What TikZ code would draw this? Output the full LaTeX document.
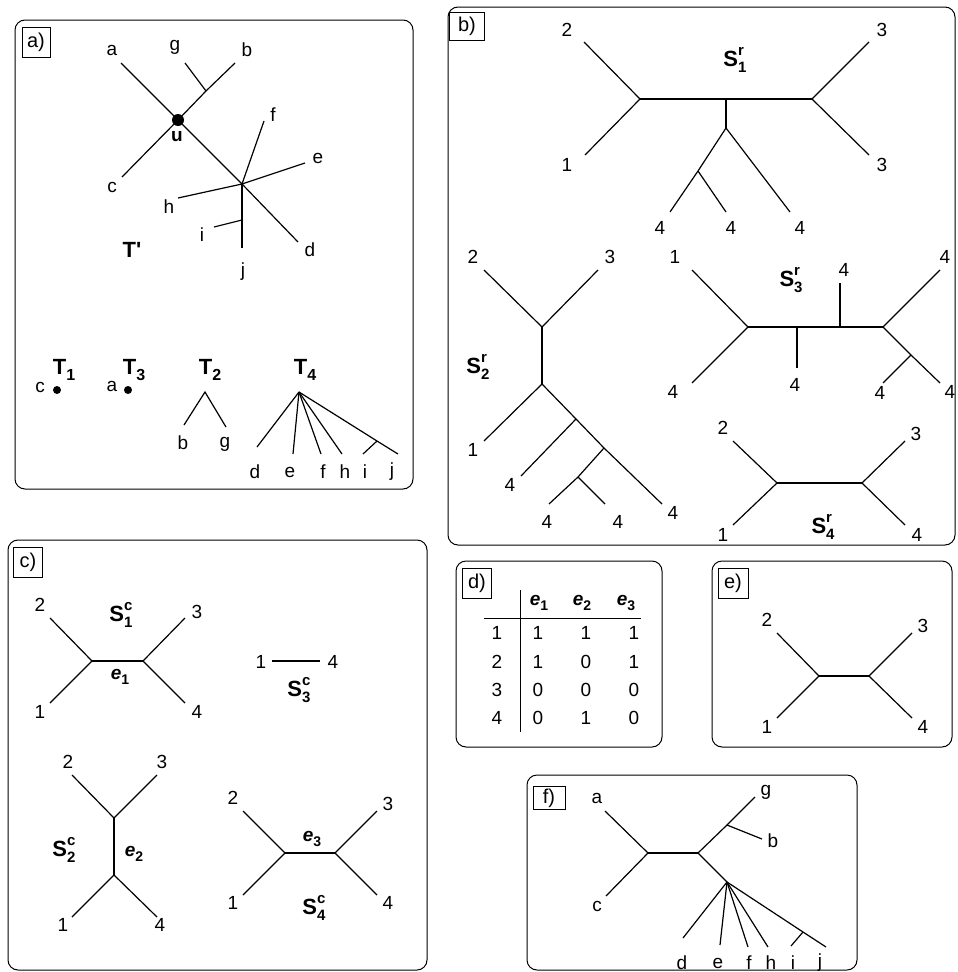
\documentclass[tikz,border=0pt]{standalone}
\usepackage{fontspec}
\setmainfont{Liberation Sans}
\newfontfamily\plainsans{Liberation Sans}
\newcommand\supsubtxt[2]{\makebox[0pt][l]{\raisebox{0.5em}{\fontsize{15}{15}\selectfont #1}}\raisebox{-0.3em}{\fontsize{15}{15}\selectfont #2}}
\newcommand\subtxt[1]{\raisebox{-0.3em}{\fontsize{16}{16}\selectfont #1}}
\newcommand\evar[1]{{\itshape e}\raisebox{-0.3em}{\fontsize{14}{14}\selectfont #1}}
\begin{document}
\begin{tikzpicture}[x=1pt,y=-1pt,
  edge/.style={line width=1.2pt},
  panel/.style={draw, rounded corners=10pt, line width=1pt},
  tagbox/.style={draw, line width=0.8pt, inner sep=0pt, font=\fontsize{20}{22}\selectfont},
  lbl/.style={inner sep=0pt, font=\fontsize{19}{21}\selectfont},
  big/.style={inner sep=0pt, font=\fontsize{22}{24}\selectfont\bfseries},
  elbl/.style={inner sep=0pt, font=\fontsize{19}{21}\selectfont\bfseries}]
\useasboundingbox (0,0) rectangle (958,972);

% ---------- panels ----------
\draw[panel] (15,20) rectangle (413,489);
\draw[panel] (448,7) rectangle (955,545);
\draw[panel] (8,540) rectangle (427,970);
\draw[panel] (456,561) rectangle (662,747);
\draw[panel] (712,561) rectangle (952,747);
\draw[panel] (527,775) rectangle (857,970);

\node[tagbox, minimum width=28pt, minimum height=30pt] (tagA) at (36,42) {a)};
\node[tagbox, minimum width=35pt, minimum height=28pt] (tagB) at (467,26) {b)};
\node[tagbox, minimum width=29pt, minimum height=30pt] (tagC) at (28,562) {c)};
\node[tagbox, minimum width=29pt, minimum height=30pt] (tagD) at (477,583) {d)};
\node[tagbox, minimum width=30pt, minimum height=30pt] (tagE) at (733,583) {e)};
\node[tagbox, minimum width=32pt, minimum height=23pt] (tagF) at (549,798) {f)};

% ---------- panel a: T' ----------
\coordinate (u) at (178,120);
\coordinate (ta) at (121,63);
\coordinate (tc) at (122,177);
\coordinate (tb) at (235,63);
\coordinate (tgj) at (206,91);
\coordinate (tg) at (185,63);
\coordinate (tx) at (242,184);
\coordinate (td) at (298,242);
\coordinate (tf) at (264,121);
\coordinate (te) at (305,163);
\coordinate (th) at (178,198);
\coordinate (tj) at (242,248);
\coordinate (tij) at (242,220);
\coordinate (ti) at (214,227);
\draw[edge] (ta) -- (u) -- (tx) -- (td);
\draw[edge] (tc) -- (u) -- (tgj) -- (tb);
\draw[edge] (tgj) -- (tg);
\draw[edge] (tx) -- (tf);
\draw[edge] (tx) -- (te);
\draw[edge] (tx) -- (th);
\draw[edge] (tx) -- (tij) -- (tj);
\draw[edge] (tij) -- (ti);
\fill (u) circle (6);
\node[lbl] (la) at (112,50) {a};
\node[lbl] (lg) at (175,47) {g};
\node[lbl] (lb) at (247,50) {b};
\node[lbl] (lc) at (112,187) {c};
\node[elbl] (lu) at (177,137) {u};
\node[lbl] (lf) at (273,115) {f};
\node[lbl] (le) at (318,158) {e};
\node[lbl] (lh) at (169,207) {h};
\node[lbl] (li) at (202,235) {i};
\node[lbl] (lj) at (243,272) {j};
\node[lbl] (ld) at (310,250) {d};
\node[big] (Tp) at (132,250) {T{\plainsans\bfseries '}};

% ---------- panel a: T1..T4 ----------
\node[big] (T1) at (64,370) {T\subtxt{1}};
\node[big] (T3) at (134,370) {T\subtxt{3}};
\node[big] (T2) at (210,370) {T\subtxt{2}};
\node[big] (T4) at (305,370) {T\subtxt{4}};
\coordinate (d1) at (57,390);
\coordinate (d3) at (128,390);
\fill (d1) circle (4);
\fill (d3) circle (4);
\node[lbl] (l1c) at (40,387) {c};
\node[lbl] (l3a) at (112,386) {a};
% T2
\coordinate (t2r) at (205,392);
\coordinate (t2b) at (184,425);
\coordinate (t2g) at (226,427);
\draw[edge] (t2b) -- (t2r) -- (t2g);
\node[lbl] (l2b) at (183,443) {b};
\node[lbl] (l2g) at (225,444) {g};
% T4
\coordinate (t4r) at (299,392);
\coordinate (t4d) at (257,447);
\coordinate (t4e) at (293,454);
\coordinate (t4f) at (321,454);
\coordinate (t4h) at (342,454);
\coordinate (t4j) at (398,454);
\coordinate (t4ij) at (377,441);
\coordinate (t4i) at (363,454);
\draw[edge] (t4r) -- (t4d);
\draw[edge] (t4r) -- (t4e);
\draw[edge] (t4r) -- (t4f);
\draw[edge] (t4r) -- (t4h);
\draw[edge] (t4r) -- (t4ij) -- (t4j);
\draw[edge] (t4ij) -- (t4i);
\node[lbl] (l4d) at (255,472) {d};
\node[lbl] (l4e) at (290,472) {e};
\node[lbl] (l4f) at (323,472) {f};
\node[lbl] (l4h) at (345,472) {h};
\node[lbl] (l4i) at (365,472) {i};
\node[lbl] (l4j) at (392,472) {j};

% ---------- panel b: S1r ----------
\coordinate (s1L) at (640,99);
\coordinate (s1R) at (812,99);
\coordinate (s1M) at (726,99);
\coordinate (s1m) at (726,128);
\coordinate (s1e2) at (584,42);
\coordinate (s1e1) at (585,155);
\coordinate (s1e3a) at (869,42);
\coordinate (s1e3b) at (869,155);
\coordinate (s1q) at (698,171);
\coordinate (s1e4a) at (670,212);
\coordinate (s1e4b) at (726,212);
\coordinate (s1e4c) at (790,212);
\draw[edge] (s1L) -- (s1M) -- (s1R);
\draw[edge] (s1e2) -- (s1L) -- (s1e1);
\draw[edge] (s1e3a) -- (s1R) -- (s1e3b);
\draw[edge] (s1M) -- (s1m);
\draw[edge] (s1m) -- (s1q) -- (s1e4a);
\draw[edge] (s1q) -- (s1e4b);
\draw[edge] (s1m) -- (s1e4c);
\node[lbl] (b1l2) at (567,30) {2};
\node[lbl] (b1l1) at (567,165) {1};
\node[lbl] (b1l3a) at (882,30) {3};
\node[lbl] (b1l3b) at (882,165) {3};
\node[lbl] (b1l4a) at (660,228) {4};
\node[lbl] (b1l4b) at (731,228) {4};
\node[lbl] (b1l4c) at (800,228) {4};
\node[big] (S1r) at (735,60) {S\supsubtxt{r}{1}};

% ---------- panel b: S2r ----------
\coordinate (s2T) at (542,327);
\coordinate (s2B) at (542,384);
\coordinate (s2e2) at (484,270);
\coordinate (s2e3) at (598,270);
\coordinate (s2e1) at (484,441);
\coordinate (s2e4d) at (662,504);
\coordinate (s2p) at (576,419);
\coordinate (s2e4a) at (521,476);
\coordinate (s2q) at (604,448);
\coordinate (s2r) at (578,477);
\coordinate (s2e4b) at (549,504);
\coordinate (s2e4c) at (605,504);
\draw[edge] (s2e2) -- (s2T) -- (s2e3);
\draw[edge] (s2T) -- (s2B);
\draw[edge] (s2B) -- (s2e1);
\draw[edge] (s2B) -- (s2p) -- (s2q) -- (s2e4d);
\draw[edge] (s2p) -- (s2e4a);
\draw[edge] (s2q) -- (s2r) -- (s2e4b);
\draw[edge] (s2r) -- (s2e4c);
\node[lbl] (b2l2) at (473,257) {2};
\node[lbl] (b2l3) at (610,257) {3};
\node[lbl] (b2l1) at (473,450) {1};
\node[lbl] (b2l4a) at (510,485) {4};
\node[lbl] (b2l4b) at (547,522) {4};
\node[lbl] (b2l4c) at (618,522) {4};
\node[lbl] (b2l4d) at (673,513) {4};
\node[big] (S2r) at (478,367) {S\supsubtxt{r}{2}};

% ---------- panel b: S3r ----------
\coordinate (s3L) at (748,327);
\coordinate (s3R) at (883,327);
\coordinate (s3m1) at (797,327);
\coordinate (s3m2) at (840,327);
\coordinate (s3e1) at (692,270);
\coordinate (s3e4a) at (692,383);
\coordinate (s3e4b) at (797,368);
\coordinate (s3e4c) at (840,283);
\coordinate (s3e4d) at (940,270);
\coordinate (s3p) at (911,355);
\coordinate (s3e4e) at (940,383);
\coordinate (s3e4f) at (883,383);
\draw[edge] (s3L) -- (s3m1) -- (s3m2) -- (s3R);
\draw[edge] (s3e1) -- (s3L) -- (s3e4a);
\draw[edge] (s3m1) -- (s3e4b);
\draw[edge] (s3m2) -- (s3e4c);
\draw[edge] (s3e4d) -- (s3R) -- (s3p) -- (s3e4e);
\draw[edge] (s3p) -- (s3e4f);
\node[lbl] (b3l1) at (675,257) {1};
\node[lbl] (b3l4a) at (673,392) {4};
\node[lbl] (b3l4b) at (795,385) {4};
\node[lbl] (b3l4c) at (844,270) {4};
\node[lbl] (b3l4d) at (945,257) {4};
\node[lbl] (b3l4e) at (950,392) {4};
\node[lbl] (b3l4f) at (880,393) {4};
\node[big] (S3r) at (791,280) {S\supsubtxt{r}{3}};

% ---------- panel b: S4r ----------
\coordinate (s4L) at (777,483);
\coordinate (s4R) at (862,483);
\coordinate (s4e2) at (733,441);
\coordinate (s4e1) at (733,525);
\coordinate (s4e3) at (905,441);
\coordinate (s4e4) at (905,525);
\draw[edge] (s4L) -- (s4R);
\draw[edge] (s4e2) -- (s4L) -- (s4e1);
\draw[edge] (s4e3) -- (s4R) -- (s4e4);
\node[lbl] (b4l2) at (723,428) {2};
\node[lbl] (b4l1) at (723,535) {1};
\node[lbl] (b4l3) at (916,434) {3};
\node[lbl] (b4l4) at (917,535) {4};
\node[big] (S4r) at (823,527) {S\supsubtxt{r}{4}};

% ---------- panel c: S1c ----------
\coordinate (c1L) at (92,661);
\coordinate (c1R) at (143,661);
\coordinate (c1e2) at (50,618);
\coordinate (c1e1) at (50,703);
\coordinate (c1e3) at (185,618);
\coordinate (c1e4) at (185,703);
\draw[edge] (c1L) -- (c1R);
\draw[edge] (c1e2) -- (c1L) -- (c1e1);
\draw[edge] (c1e3) -- (c1R) -- (c1e4);
\node[lbl] (c1l2) at (40,605) {2};
\node[lbl] (c1l1) at (40,712) {1};
\node[lbl] (c1l3) at (197,612) {3};
\node[lbl] (c1l4) at (197,712) {4};
\node[elbl] (c1e) at (120,677) {\evar{1}};
\node[big] (S1c) at (121,615) {S\supsubtxt{c}{1}};

% ---------- panel c: S3c ----------
\coordinate (c3a) at (272,661);
\coordinate (c3b) at (320,661);
\draw[edge] (c3a) -- (c3b);
\node[lbl] (c3l1) at (261,662) {1};
\node[lbl] (c3l4) at (333,662) {4};
\node[big] (S3c) at (299,690) {S\supsubtxt{c}{3}};

% ---------- panel c: S2c ----------
\coordinate (c2T) at (114,818);
\coordinate (c2B) at (114,875);
\coordinate (c2e2) at (72,775);
\coordinate (c2e3) at (157,775);
\coordinate (c2e1) at (72,917);
\coordinate (c2e4) at (157,917);
\draw[edge] (c2T) -- (c2B);
\draw[edge] (c2e2) -- (c2T) -- (c2e3);
\draw[edge] (c2e1) -- (c2B) -- (c2e4);
\node[lbl] (c2l2) at (68,762) {2};
\node[lbl] (c2l3) at (162,762) {3};
\node[lbl] (c2l1) at (63,925) {1};
\node[lbl] (c2l4) at (160,925) {4};
\node[elbl] (c2e) at (134,854) {\evar{2}};
\node[big] (S2c) at (64,850) {S\supsubtxt{c}{2}};

% ---------- panel c: S4c ----------
\coordinate (c4L) at (285,853);
\coordinate (c4R) at (335,853);
\coordinate (c4e2) at (243,811);
\coordinate (c4e1) at (243,895);
\coordinate (c4e3) at (377,811);
\coordinate (c4e4) at (377,895);
\draw[edge] (c4L) -- (c4R);
\draw[edge] (c4e2) -- (c4L) -- (c4e1);
\draw[edge] (c4e3) -- (c4R) -- (c4e4);
\node[lbl] (c4l2) at (233,798) {2};
\node[lbl] (c4l1) at (233,903) {1};
\node[lbl] (c4l3) at (388,804) {3};
\node[lbl] (c4l4) at (388,903) {4};
\node[elbl] (c4e) at (312,839) {\evar{3}};
\node[big] (S4c) at (314,908) {S\supsubtxt{c}{4}};

% ---------- panel d: table ----------
\coordinate (dvt) at (520,590);
\coordinate (dvb) at (520,732);
\coordinate (dhl) at (484,618);
\coordinate (dhr) at (641,618);
\draw[line width=1pt] (dvt) -- (dvb);
\draw[line width=1pt] (dhl) -- (dhr);
\node[elbl] (h1) at (539,603) {\evar{1}};
\node[elbl] (h2) at (582,603) {\evar{2}};
\node[elbl] (h3) at (626,603) {\evar{3}};
\foreach \r/\y/\a/\b/\c in {1/633/1/1/1, 2/662/1/0/1, 3/690/0/0/0, 4/718/0/1/0}{
  \node[lbl] (row\r) at (497,\y) {\r};
  \node[lbl] (v\r a) at (538,\y) {\a};
  \node[lbl] (v\r b) at (586,\y) {\b};
  \node[lbl] (v\r c) at (634,\y) {\c};
}

% ---------- panel e ----------
\coordinate (eL) at (819,676);
\coordinate (eR) at (869,676);
\coordinate (ee2) at (777,633);
\coordinate (ee1) at (777,718);
\coordinate (ee3) at (912,633);
\coordinate (ee4) at (912,718);
\draw[edge] (eL) -- (eR);
\draw[edge] (ee2) -- (eL) -- (ee1);
\draw[edge] (ee3) -- (eR) -- (ee4);
\node[lbl] (el2) at (767,620) {2};
\node[lbl] (el1) at (767,727) {1};
\node[lbl] (el3) at (923,626) {3};
\node[lbl] (el4) at (923,727) {4};

% ---------- panel f ----------
\coordinate (fL) at (648,853);
\coordinate (fR) at (698,853);
\coordinate (fa) at (605,811);
\coordinate (fc) at (606,896);
\coordinate (fbj) at (727,825);
\coordinate (fg) at (755,797);
\coordinate (fb) at (762,839);
\coordinate (fx) at (727,882);
\coordinate (fd) at (683,938);
\coordinate (fe) at (720,945);
\coordinate (ff) at (748,947);
\coordinate (fh) at (768,947);
\coordinate (fij) at (803,932);
\coordinate (fj) at (826,947);
\coordinate (fi) at (791,946);
\draw[edge] (fL) -- (fR);
\draw[edge] (fa) -- (fL) -- (fc);
\draw[edge] (fR) -- (fbj) -- (fg);
\draw[edge] (fbj) -- (fb);
\draw[edge] (fR) -- (fx);
\draw[edge] (fx) -- (fd);
\draw[edge] (fx) -- (fe);
\draw[edge] (fx) -- (ff);
\draw[edge] (fx) -- (fh);
\draw[edge] (fx) -- (fij) -- (fj);
\draw[edge] (fij) -- (fi);
\node[lbl] (fla) at (597,798) {a};
\node[lbl] (flc) at (597,906) {c};
\node[lbl] (flg) at (766,792) {g};
\node[lbl] (flb) at (773,841) {b};
\node[lbl] (fld) at (682,963) {d};
\node[lbl] (fle) at (718,963) {e};
\node[lbl] (flf) at (749,963) {f};
\node[lbl] (flh) at (771,963) {h};
\node[lbl] (fli) at (793,963) {i};
\node[lbl] (flj) at (820,963) {j};
\end{tikzpicture}
\end{document}
